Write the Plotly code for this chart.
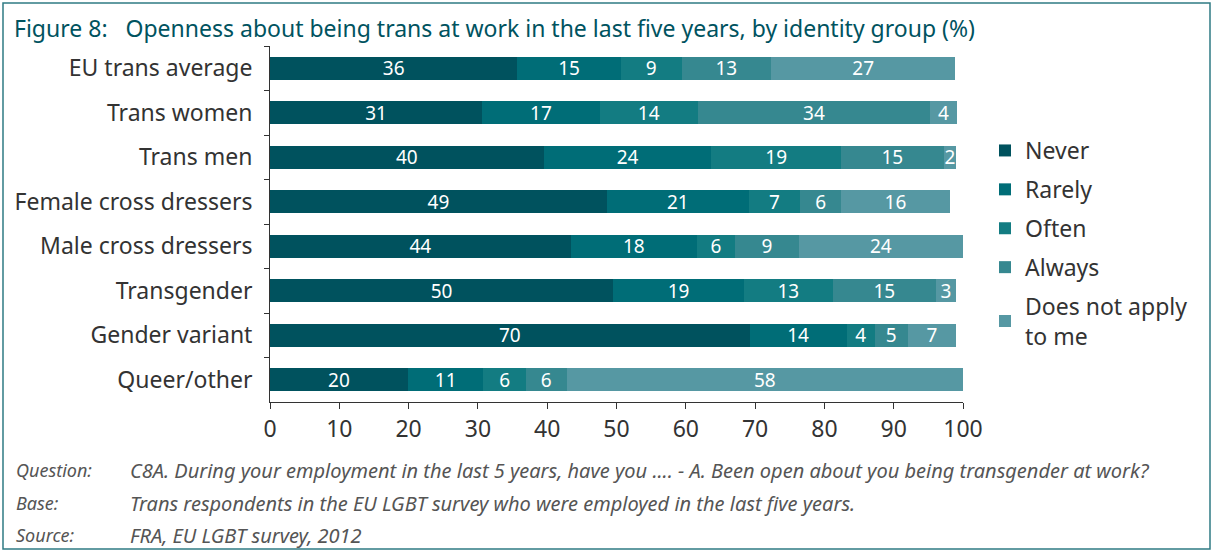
import plotly.graph_objects as go

# categories top to bottom
groups = ['EU trans average', 'Trans women', 'Trans men', 'Female cross dressers',
          'Male cross dressers', 'Transgender', 'Gender variant', 'Queer/other']

series = ['Never', 'Rarely', 'Often', 'Always', 'Does not apply<br>to me']

# bar lengths (%)
never = [35.7, 30.6, 39.5, 48.6, 43.4, 49.5, 69.2, 19.9]
rarely = [14.9, 17.0, 24.2, 20.5, 18.2, 18.9, 14.0, 10.9]
often = [8.8, 14.1, 18.7, 7.4, 5.5, 12.8, 4.1, 6.1]
always = [12.9, 33.6, 14.8, 5.9, 9.2, 14.9, 4.7, 5.9]
not_apply = [26.6, 3.8, 1.8, 15.7, 23.7, 2.9, 7.0, 57.2]

# printed labels
never_lbl = [36, 31, 40, 49, 44, 50, 70, 20]
rarely_lbl = [15, 17, 24, 21, 18, 19, 14, 11]
often_lbl = [9, 14, 19, 7, 6, 13, 4, 6]
always_lbl = [13, 34, 15, 6, 9, 15, 5, 6]
not_apply_lbl = [27, 4, 2, 16, 24, 3, 7, 58]

colors = ['#00525E', '#006D77', '#137C82', '#368890', '#5698A3']

values = [never, rarely, often, always, not_apply]
labels = [never_lbl, rarely_lbl, often_lbl, always_lbl, not_apply_lbl]

FONT = 'Noto Sans'
W, H = 1214, 551
ML, MR, MT, MB = 270, 251, 46, 149
PW = W - ML - MR
PH = H - MT - MB


def px(x):
    return (x - ML) / PW


def py(y):
    return 1 - (y - MT) / PH


fig = go.Figure()
for name, vals, lbls, col in zip(series, values, labels, colors):
    fig.add_trace(go.Bar(
        y=groups, x=vals, name=name, orientation='h',
        marker=dict(color=col, line=dict(width=0)),
        text=[str(v) for v in lbls],
        textposition='inside', insidetextanchor='middle',
        textangle=0, constraintext='none',
        textfont=dict(color='white', size=19, family=FONT),
        legendgroup=name,
    ))

fig.update_layout(
    width=W, height=H,
    barmode='stack', bargap=0.48,
    plot_bgcolor='white', paper_bgcolor='white',
    margin=dict(l=ML, r=MR, t=MT, b=MB),
    font=dict(family=FONT, color='#333333'),
    uniformtext=dict(minsize=19, mode='show'),
    xaxis=dict(range=[0, 100], dtick=10, showgrid=False, zeroline=False,
               showline=True, linecolor='#333333', linewidth=1,
               ticks='outside', ticklen=6, tickcolor='#333333',
               tickfont=dict(size=23, color='#333333')),
    yaxis=dict(autorange='reversed', showgrid=False, zeroline=False,
               showline=True, linecolor='#333333', linewidth=1,
               ticks='outside', ticklen=5, tickcolor='#333333',
               tickson='boundaries', ticksuffix='  ',
               tickfont=dict(size=23, color='#333333')),
    legend=dict(x=px(985), y=py(129), xanchor='left', yanchor='top',
                font=dict(size=23, color='#333333'),
                tracegroupgap=6, traceorder='grouped',
                bgcolor='rgba(0,0,0,0)'),
)

# title
fig.add_annotation(xref='paper', yref='paper', x=px(12), y=py(28),
                   xanchor='left', yanchor='middle', showarrow=False,
                   text='Figure 8:   Openness about being trans at work in the last five years, by identity group (%)',
                   font=dict(size=23, color='#00535F', family=FONT))

# notes
notes = [
    ('Question:', 'C8A. During your employment in the last 5 years, have you .... - A. Been open about you being transgender at work?', 470),
    ('Base:', 'Trans respondents in the EU LGBT survey who were employed in the last five years.', 503),
    ('Source:', 'FRA, EU LGBT survey, 2012', 535),
]
for head, body, yy in notes:
    fig.add_annotation(xref='paper', yref='paper', x=px(14), y=py(yy),
                       xanchor='left', yanchor='middle', showarrow=False,
                       text='<i>' + head + '</i>',
                       font=dict(size=18, color='#555555', family=FONT))
    fig.add_annotation(xref='paper', yref='paper', x=px(128), y=py(yy),
                       xanchor='left', yanchor='middle', showarrow=False,
                       text='<i>' + body + '</i>',
                       font=dict(size=20, color='#555555', family=FONT))

# frame
fig.add_shape(type='rect', xref='paper', yref='paper',
              x0=px(3), x1=px(1210), y0=py(549), y1=py(3),
              line=dict(color='#2F7B84', width=1.5), layer='below')

fig.write_html('out.html', config={'displayModeBar': False},
               post_script="document.body.style.margin='0';")
